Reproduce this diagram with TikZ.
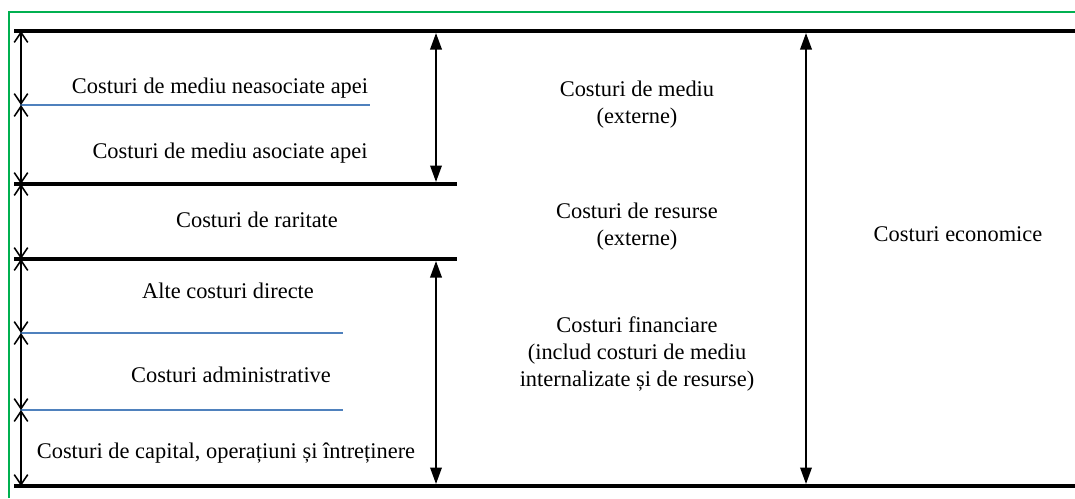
\documentclass[tikz,border=0pt]{standalone}
\usepackage{fontspec}
\setmainfont{Liberation Serif}
\usetikzlibrary{arrows.meta}
\definecolor{framegreen}{HTML}{00B050}
\definecolor{divblue}{HTML}{4F81BD}
\begin{document}
\begin{tikzpicture}[x=0.02cm,y=-0.02cm,
  level/.style={line width=2.3pt, black},
  subline/.style={line width=0.9pt, divblue},
  span/.style={line width=0.9pt,
    {Straight Barb[length=0.2cm,width=0.27cm]}-{Straight Barb[length=0.2cm,width=0.27cm]}},
  bigspan/.style={line width=1.1pt,
    {Triangle[length=0.33cm,width=0.23cm]}-{Triangle[length=0.33cm,width=0.23cm]}},
  lbl/.style={font=\fontsize{12.75}{15.4}\selectfont, inner sep=0pt, align=center},
]
\useasboundingbox (0,0) rectangle (1075,498);

% outer frame (open to the right and bottom)
\draw[framegreen, line width=1.4pt] (9,498) -- (9,12) -- (1075,12);

% level lines
\coordinate (t0L) at (14,31);   \coordinate (t0R) at (1075,31);
\coordinate (t1L) at (14,184);  \coordinate (t1R) at (457,184);
\coordinate (t2L) at (14,259);  \coordinate (t2R) at (457,259);
\coordinate (t3L) at (14,486);  \coordinate (t3R) at (1075,486);
\draw[level] (t0L) -- (t0R);
\draw[level] (t1L) -- (t1R);
\draw[level] (t2L) -- (t2R);
\draw[level] (t3L) -- (t3R);

% thin sub-divisions
\coordinate (b1L) at (20,105);  \coordinate (b1R) at (370,105);
\coordinate (b2L) at (20,333);  \coordinate (b2R) at (343,333);
\coordinate (b3L) at (20,410);  \coordinate (b3R) at (343,410);
\draw[subline] (b1L) -- (b1R);
\draw[subline] (b2L) -- (b2R);
\draw[subline] (b3L) -- (b3R);

% left dimension arrows
\coordinate (a0) at (21,31);
\coordinate (a1) at (21,105);
\coordinate (a2) at (21,184);
\coordinate (a3) at (21,259);
\coordinate (a4) at (21,333);
\coordinate (a5) at (21,410);
\coordinate (a6) at (21,486);
\draw[span] (a0) -- (a1);
\draw[span] (a1) -- (a2);
\draw[span] (a2) -- (a3);
\draw[span] (a3) -- (a4);
\draw[span] (a4) -- (a5);
\draw[span] (a5) -- (a6);

% middle and right arrows
\coordinate (m0) at (436,33);
\coordinate (m1) at (436,182);
\coordinate (m2) at (436,261);
\coordinate (m3) at (436,484);
\coordinate (r0) at (806,33);
\coordinate (r1) at (806,484);
\draw[bigspan] (m0) -- (m1);
\draw[bigspan] (m2) -- (m3);
\draw[bigspan] (r0) -- (r1);

% component labels
\node[lbl, anchor=base] (n1) at (220,93) {Costuri de mediu neasociate apei};
\node[lbl, anchor=base] (n2) at (230,158) {Costuri de mediu asociate apei};
\node[lbl, anchor=base] (n3) at (257,227) {Costuri de raritate};
\node[lbl, anchor=base] (n4) at (228,298) {Alte costuri directe};
\node[lbl, anchor=base] (n5) at (231,382) {Costuri administrative};
\node[lbl, anchor=base] (n6) at (226,458) {Costuri de capital, operațiuni și întreținere};

% grouped labels
\node[lbl] (g1) at (637,105) {Costuri de mediu\\(externe)};
\node[lbl] (g2) at (637,227) {Costuri de resurse\\(externe)};
\node[lbl] (g3) at (637,354) {Costuri financiare\\(includ costuri de mediu\\internalizate  și de resurse)};
\node[lbl, anchor=base] (ec) at (958,241) {Costuri economice};
\end{tikzpicture}
\end{document}
